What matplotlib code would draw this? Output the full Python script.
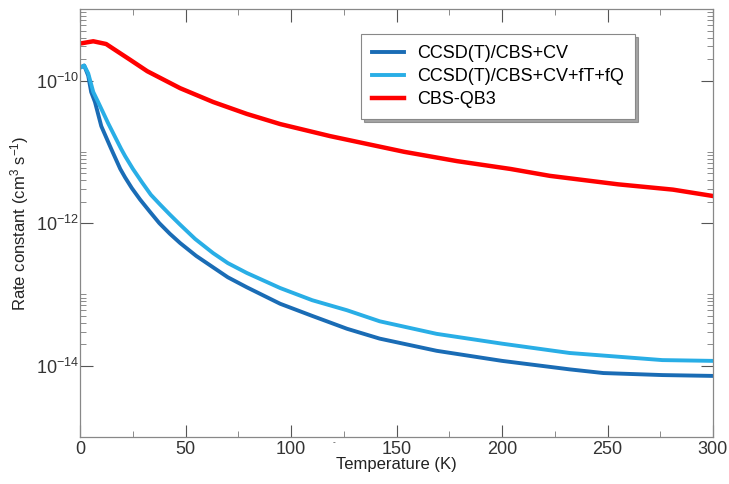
import numpy as np
import matplotlib
matplotlib.use("Agg")
import matplotlib.pyplot as plt
from matplotlib.ticker import FixedLocator, NullFormatter

plt.rcParams['font.family'] = ['Liberation Sans', 'DejaVu Sans']
plt.rcParams['mathtext.default'] = 'regular'

# data (temperature in K, rate constant in cm3 s-1)
T_cv = [0.6, 1.9, 3.8, 5.2, 7.0, 10.0, 14.7, 19.0, 21.3, 24.5, 28.4, 33,
        37.5, 42.5, 47.4, 55, 63, 70, 79, 94.8, 110, 126.5, 142, 169, 200,
        232, 248, 276, 300]
k_cv = [1.55e-10, 1.62e-10, 1.17e-10, 6.9e-11, 5.0e-11, 2.29e-11, 1.10e-11,
        5.75e-12, 4.37e-12, 3.09e-12, 2.14e-12, 1.45e-12, 1.0e-12, 7.1e-13,
        5.25e-13, 3.47e-13, 2.4e-13, 1.74e-13, 1.26e-13, 7.4e-14, 5.0e-14,
        3.3e-14, 2.4e-14, 1.62e-14, 1.17e-14, 8.9e-15, 7.9e-15, 7.4e-15,
        7.2e-15]

T_fq = [0.6, 1.9, 3.8, 6.2, 8.5, 13.3, 19.4, 21.3, 25, 29.4, 33.5, 37.9,
        42.5, 47.4, 54.5, 63, 70, 79, 94.8, 110, 126.5, 142, 169, 200, 232,
        276, 300]
k_fq = [1.55e-10, 1.62e-10, 1.26e-10, 6.9e-11, 5.0e-11, 2.5e-11, 1.10e-11,
        8.7e-12, 5.75e-12, 3.7e-12, 2.5e-12, 1.82e-12, 1.32e-12, 9.5e-13,
        6.0e-13, 3.8e-13, 2.75e-13, 2.0e-13, 1.23e-13, 8.3e-14, 6.0e-14,
        4.2e-14, 2.8e-14, 2.04e-14, 1.51e-14, 1.2e-14, 1.17e-14]

T_qb3 = [0, 6.2, 12.3, 15.6, 23.7, 31.8, 47.4, 63, 79, 94.8, 118.5, 153.6,
         178.7, 204, 222.7, 255, 281, 300]
k_qb3 = [3.3e-10, 3.55e-10, 3.25e-10, 2.8e-10, 1.95e-10, 1.35e-10, 7.8e-11,
         5.0e-11, 3.4e-11, 2.45e-11, 1.66e-11, 1.0e-11, 7.4e-12, 5.75e-12,
         4.6e-12, 3.5e-12, 2.95e-12, 2.4e-12]

labels = ['CCSD(T)/CBS+CV', 'CCSD(T)/CBS+CV+fT+fQ', 'CBS-QB3']
colors = ['#1a6cb5', '#29aee6', '#ff0000']

fig = plt.figure(figsize=(7.29, 4.84), dpi=100)
ax = fig.add_axes([0.11, 0.097, 0.868, 0.884])

ax.plot(T_cv, k_cv, color=colors[0], lw=2.8, label=labels[0])
ax.plot(T_fq, k_fq, color=colors[1], lw=2.8, label=labels[1])
ax.plot(T_qb3, k_qb3, color=colors[2], lw=3.2, label=labels[2])

ax.set_yscale('log')
ax.set_xlim(0, 300)
ax.set_ylim(1e-15, 1e-9)

# x ticks
ax.set_xticks([0, 50, 100, 150, 200, 250, 300])
ax.set_xticks([25, 75, 125, 175, 225, 275], minor=True)

# y ticks: labels only on even decades, minor ticks only inside those decades
ax.yaxis.set_major_locator(FixedLocator([1e-14, 1e-12, 1e-10]))
minors = [1e-15, 1e-13, 1e-11, 1e-9]
for d in [1e-14, 1e-12, 1e-10]:
    minors += [m * d for m in range(2, 10)]
ax.yaxis.set_minor_locator(FixedLocator(minors))
ax.yaxis.set_minor_formatter(NullFormatter())

ax.tick_params(which='major', direction='in', length=9, width=0.8,
               top=True, right=True, colors='#555555', labelcolor='#333333',
               labelsize=13)
ax.tick_params(axis='y', which='major', pad=1)
ax.tick_params(axis='x', which='major', pad=3)
ax.tick_params(which='minor', direction='in', length=4.5, width=0.6,
               top=True, right=True, colors='#777777')

for s in ax.spines.values():
    s.set_color('#888888')
    s.set_linewidth(0.9)

ax.set_xlabel('Temperature (K)', fontsize=12, color='#222222', labelpad=-1)
ax.set_ylabel('Rate constant (cm$^{3}$ s$^{-1}$)', fontsize=12,
              color='#222222', labelpad=3)
fig.text(0.456, 0.083, '-', fontsize=6, color='#333333')

leg = ax.legend(loc='upper left', bbox_to_anchor=(0.444, 0.942),
                borderaxespad=0, fontsize=13, frameon=True, fancybox=False,
                shadow=True, handlelength=1.8, handletextpad=0.7,
                borderpad=0.6, labelspacing=0.35)
leg.get_frame().set_edgecolor('#888888')
leg.get_frame().set_linewidth(0.8)

fig.savefig('out.png', dpi=100)
